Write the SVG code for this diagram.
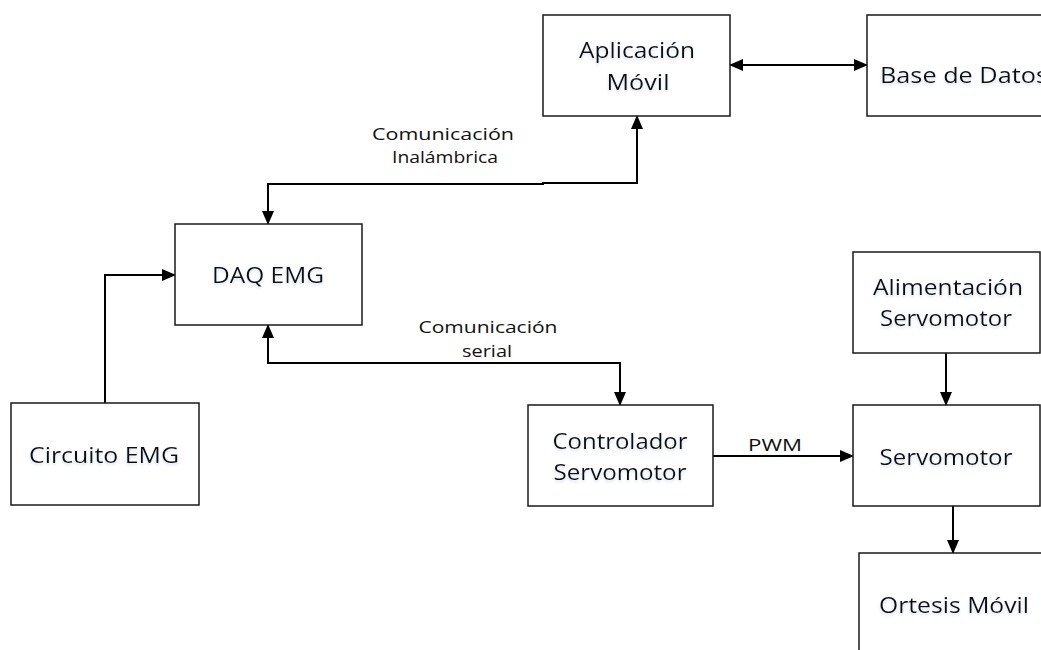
<svg xmlns="http://www.w3.org/2000/svg" width="1041" height="650" viewBox="0 0 1041 650">
  <style>
    .box { fill: #ffffff; stroke: #1a1a1a; stroke-width: 1.5; }
    .lbl { font-family: "Open Sans", "Noto Sans", "Liberation Sans", sans-serif; font-size: 22px; fill: #111111; text-anchor: middle; filter: url(#glow); }
    .cap { font-family: "Open Sans", "Noto Sans", "Liberation Sans", sans-serif; font-size: 16px; fill: #111111; text-anchor: middle; }
    .wire { fill: none; stroke: #000000; stroke-width: 2; }
  </style>
  <defs>
    <marker id="arrow" markerUnits="userSpaceOnUse" markerWidth="14" markerHeight="12" refX="13" refY="6" orient="auto-start-reverse">
      <path d="M0,0 L14,6 L0,12 z" fill="#000000"/>
    </marker>
    <filter id="glow" x="-10%" y="-20%" width="120%" height="160%">
      <feDropShadow dx="0" dy="2" stdDeviation="1.5" flood-color="#9fb6d8" flood-opacity="0.45"/>
    </filter>
  </defs>

  <rect width="1041" height="650" fill="#ffffff"/>

  <!-- connectors -->
  <g id="connectors">
    <line class="wire" x1="730" y1="65" x2="867" y2="65" marker-start="url(#arrow)" marker-end="url(#arrow)"/>
    <path class="wire" d="M268,224 L268,184 L543,184 L543,183 L637,183 L637,116" marker-start="url(#arrow)" marker-end="url(#arrow)"/>
    <path class="wire" d="M268,325 L268,363 L620,363 L620,405" marker-start="url(#arrow)" marker-end="url(#arrow)"/>
    <path class="wire" d="M105,403 L105,275 L175,275" marker-end="url(#arrow)"/>
    <line class="wire" x1="713" y1="456" x2="853" y2="456" marker-end="url(#arrow)"/>
    <line class="wire" x1="946" y1="353" x2="946" y2="405" marker-end="url(#arrow)"/>
    <line class="wire" x1="953" y1="506" x2="953" y2="553" marker-end="url(#arrow)"/>

    <text class="cap" x="443" y="140" textLength="142" lengthAdjust="spacingAndGlyphs">Comunicación</text>
    <text class="cap" x="445" y="163" textLength="106" lengthAdjust="spacingAndGlyphs">Inalámbrica</text>
    <text class="cap" x="488" y="333" textLength="139" lengthAdjust="spacingAndGlyphs">Comunicación</text>
    <text class="cap" x="487" y="357" textLength="50" lengthAdjust="spacingAndGlyphs">serial</text>
    <text class="cap" x="775" y="451" textLength="54" lengthAdjust="spacingAndGlyphs">PWM</text>
  </g>

  <g id="app-movil">
    <rect class="box" x="543" y="15" width="187" height="101"/>
    <text class="lbl" x="637" y="58" textLength="116" lengthAdjust="spacingAndGlyphs">Aplicación</text>
    <text class="lbl" x="638" y="90" textLength="63" lengthAdjust="spacingAndGlyphs">Móvil</text>
  </g>

  <g id="base-datos">
    <rect class="box" x="867" y="15" width="187" height="101"/>
    <text class="lbl" x="880" y="83" style="text-anchor:start" textLength="168" lengthAdjust="spacingAndGlyphs">Base de Datos</text>
  </g>

  <g id="daq-emg">
    <rect class="box" x="175" y="224" width="187" height="101"/>
    <text class="lbl" x="268" y="283" textLength="112" lengthAdjust="spacingAndGlyphs">DAQ EMG</text>
  </g>

  <g id="circuito-emg">
    <rect class="box" x="11" y="403" width="188" height="102"/>
    <text class="lbl" x="104" y="463" textLength="150" lengthAdjust="spacingAndGlyphs">Circuito EMG</text>
  </g>

  <g id="controlador">
    <rect class="box" x="528" y="405" width="185" height="101"/>
    <text class="lbl" x="620" y="449" textLength="135" lengthAdjust="spacingAndGlyphs">Controlador</text>
    <text class="lbl" x="620" y="480" textLength="133" lengthAdjust="spacingAndGlyphs">Servomotor</text>
  </g>

  <g id="alimentacion">
    <rect class="box" x="853" y="252" width="187" height="101"/>
    <text class="lbl" x="948" y="295" textLength="150" lengthAdjust="spacingAndGlyphs">Alimentación</text>
    <text class="lbl" x="946" y="326" textLength="132" lengthAdjust="spacingAndGlyphs">Servomotor</text>
  </g>

  <g id="servomotor">
    <rect class="box" x="853" y="405" width="187" height="101"/>
    <text class="lbl" x="946" y="465" textLength="133" lengthAdjust="spacingAndGlyphs">Servomotor</text>
  </g>

  <g id="ortesis">
    <rect class="box" x="859" y="553" width="187" height="101"/>
    <text class="lbl" x="954" y="613" textLength="150" lengthAdjust="spacingAndGlyphs">Ortesis Móvil</text>
  </g>
</svg>
